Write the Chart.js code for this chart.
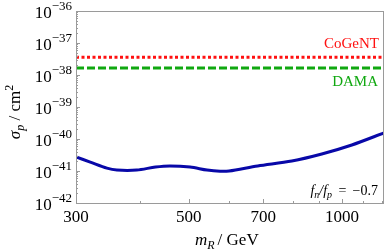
<!DOCTYPE html>
<html>
<head>
<meta charset="utf-8">
<script src="https://cdn.jsdelivr.net/npm/chart.js@4/dist/chart.umd.min.js"></script>
<style>
  html, body { margin: 0; padding: 0; background: #fff; }
</style>
</head>
<body>
<canvas id="limitChart" width="385" height="250"></canvas>
<script>
const massGeV = [300, 320, 345, 361, 395, 430, 459, 503, 543, 576, 600, 683, 797, 913, 1046, 1210];
const sigmaLimit = [2.75e-41, 1.9e-41, 1.23e-41, 1.07e-41, 1.07e-41, 1.33e-41, 1.44e-41, 1.33e-41,
                    1.07e-41, 0.98e-41, 1.0e-41, 1.44e-41, 2.05e-41, 3.4e-41, 6.5e-41, 1.55e-40];
const cogentSigma = 3.6e-38;
const damaSigma = 1.65e-38;
const xRange = [300, 1210];
const xTickLabels = [300, 500, 700, 1000];
const xMinorTicks = [400, 600, 800, 900, 1100, 1200];
const yExponents = [-36, -37, -38, -39, -40, -41, -42];

const serif = '"Liberation Serif", "DejaVu Serif", serif';
const axisGray = '#9a9a9a';

const frameAndText = {
    id: 'frameAndText',
    afterDraw(chart) {
        const ctx = chart.ctx;
        const a = chart.chartArea;
        const xs = chart.scales.x, ys = chart.scales.y;
        ctx.save();

        // frame
        ctx.strokeStyle = axisGray;
        ctx.lineWidth = 1;
        ctx.strokeRect(a.left + 0.5, a.top + 0.5, a.right - a.left - 1, a.bottom - a.top);

        // y ticks, inside the frame
        ctx.beginPath();
        yExponents.forEach(function (e) {
            const y = Math.round(ys.getPixelForValue(Math.pow(10, e))) + 0.5;
            ctx.moveTo(a.left, y); ctx.lineTo(a.left + 4, y);
            if (e > -42) {
                for (let k = 2; k < 10; k++) {
                    const ym = Math.round(ys.getPixelForValue(k * Math.pow(10, e - 1))) + 0.5;
                    ctx.moveTo(a.left, ym); ctx.lineTo(a.left + 2, ym);
                }
            }
        });
        // x ticks
        xTickLabels.forEach(function (v) {
            const x = Math.round(xs.getPixelForValue(v)) + 0.5;
            ctx.moveTo(x, a.bottom); ctx.lineTo(x, a.bottom - 4);
        });
        xMinorTicks.forEach(function (v) {
            const x = Math.round(xs.getPixelForValue(v)) + 0.5;
            ctx.moveTo(x, a.bottom); ctx.lineTo(x, a.bottom - 2);
        });
        ctx.stroke();

        ctx.fillStyle = '#000';
        // y tick labels 10^e
        yExponents.forEach(function (e) {
            const y = ys.getPixelForValue(Math.pow(10, e));
            const expText = '\u2212' + Math.abs(e);
            ctx.font = '13px ' + serif;
            const w2 = ctx.measureText(expText).width;
            ctx.textAlign = 'left';
            ctx.textBaseline = 'alphabetic';
            ctx.fillText(expText, 72 - w2, y - 1);
            ctx.font = '17px ' + serif;
            ctx.textAlign = 'right';
            ctx.fillText('10', 72 - w2, y + 7);
        });

        // x tick labels
        ctx.font = '17px ' + serif;
        ctx.textAlign = 'center';
        xTickLabels.forEach(function (v) {
            ctx.fillText(String(v), xs.getPixelForValue(v), 222);
        });

        // x axis title: m_R / GeV
        ctx.textAlign = 'left';
        let x = 195;
        ctx.font = 'italic 17px ' + serif;
        ctx.fillText('m', x, 245); x += ctx.measureText('m').width;
        ctx.font = 'italic 12px ' + serif;
        ctx.fillText('R', x, 249); x += ctx.measureText('R').width + 3;
        ctx.font = '17px ' + serif;
        ctx.fillText('/ GeV', x, 245);

        // y axis title: sigma_p / cm^2
        ctx.save();
        ctx.translate(20, 112);
        ctx.rotate(-Math.PI / 2);
        const parts = [
            ['italic 17px ', '\u03c3', 0], ['italic 12px ', 'p', 4], ['17px ', ' / cm', 0], ['12px ', '2', -7]
        ];
        let total = 0;
        parts.forEach(function (p) { ctx.font = p[0] + serif; total += ctx.measureText(p[1]).width; });
        let px = -total / 2;
        parts.forEach(function (p) {
            ctx.font = p[0] + serif;
            ctx.fillText(p[1], px, p[2]);
            px += ctx.measureText(p[1]).width;
        });
        ctx.restore();

        // labels for the horizontal lines
        ctx.textAlign = 'right';
        ctx.font = '15px ' + serif;
        ctx.fillStyle = '#ff1010';
        ctx.fillText('CoGeNT', 379, 48);
        ctx.fillStyle = '#10a810';
        ctx.fillText('DAMA', 378, 86);

        // f_n / f_p = -0.7
        ctx.fillStyle = '#000';
        ctx.textAlign = 'left';
        const ann = [
            ['italic 14px ', 'f', 0], ['italic 10px ', 'n', 3], ['italic 14px ', '/', 0],
            ['italic 14px ', 'f', 0], ['italic 10px ', 'p', 3], ['14px ', ' \u2009=\u2009 \u22120.7', 0]
        ];
        let aw = 0;
        ann.forEach(function (p) { ctx.font = p[0] + serif; aw += ctx.measureText(p[1]).width; });
        let ax = 378 - aw;
        ann.forEach(function (p) {
            ctx.font = p[0] + serif;
            ctx.fillText(p[1], ax, 195 + p[2]);
            ax += ctx.measureText(p[1]).width;
        });

        ctx.restore();
    }
};

new Chart(document.getElementById('limitChart'), {
    type: 'line',
    data: {
        datasets: [
            {
                label: 'Limit',
                data: massGeV.map(function (m, i) { return { x: m, y: sigmaLimit[i] }; }),
                borderColor: '#0808a8',
                borderWidth: 3,
                tension: 0.3,
                pointRadius: 0
            },
            {
                label: 'CoGeNT',
                data: xRange.map(function (m) { return { x: m, y: cogentSigma }; }),
                borderColor: '#ff1010',
                borderWidth: 3,
                borderDash: [3, 2.5],
                pointRadius: 0
            },
            {
                label: 'DAMA',
                data: xRange.map(function (m) { return { x: m, y: damaSigma }; }),
                borderColor: '#10a810',
                borderWidth: 3,
                borderDash: [8, 3],
                pointRadius: 0
            }
        ]
    },
    options: {
        responsive: false,
        animation: false,
        devicePixelRatio: 1,
        layout: { padding: { left: 76, top: 11, right: 1, bottom: 47 } },
        plugins: { legend: { display: false }, tooltip: { enabled: false } },
        scales: {
            x: { type: 'logarithmic', min: xRange[0], max: xRange[1], display: false },
            y: { type: 'logarithmic', min: 1e-42, max: 1e-36, display: false }
        }
    },
    plugins: [frameAndText]
});
</script>
</body>
</html>
